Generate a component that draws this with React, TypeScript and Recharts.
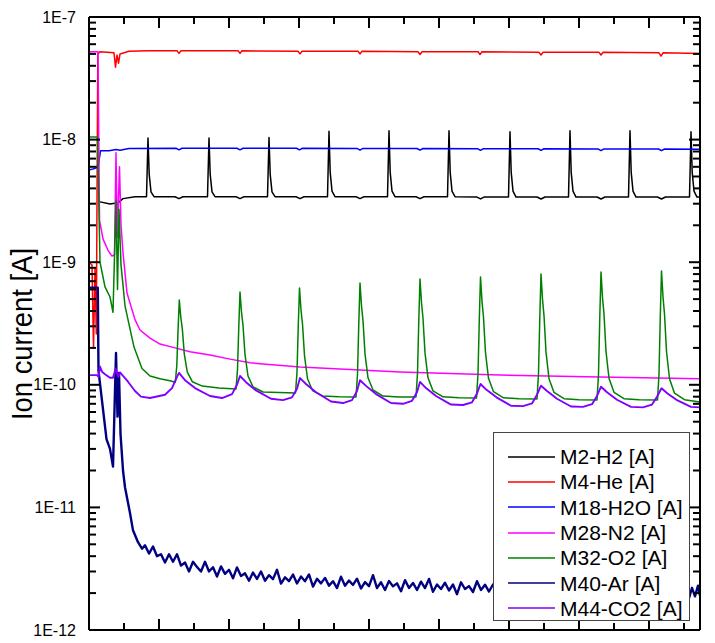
import React from 'react';
import { LineChart, Line, XAxis, YAxis, Legend } from 'recharts';

// x = scan time (arbitrary units), y = ion current [A]
const X_TICKS = [35, 70, 105, 140, 175, 210, 245, 280, 315, 350, 385, 420, 455, 490, 525, 560, 595];
const X_MAJOR = [70, 140, 210, 280, 350, 420, 490, 560];
const Y_TICKS = [
  1e-12, 2e-12, 3e-12, 4e-12, 5e-12, 6e-12, 7e-12, 8e-12, 9e-12,
  1e-11, 2e-11, 3e-11, 4e-11, 5e-11, 6e-11, 7e-11, 8e-11, 9e-11,
  1e-10, 2e-10, 3e-10, 4e-10, 5e-10, 6e-10, 7e-10, 8e-10, 9e-10,
  1e-9, 2e-9, 3e-9, 4e-9, 5e-9, 6e-9, 7e-9, 8e-9, 9e-9,
  1e-8, 2e-8, 3e-8, 4e-8, 5e-8, 6e-8, 7e-8, 8e-8, 9e-8,
  1e-7,
];
const Y_LABELS = ['1E-12', '1E-11', '1E-10', '1E-9', '1E-8', '1E-7'];
const Y_MAJOR = [1e-12, 1e-11, 1e-10, 1e-9, 1e-8, 1e-7];

const H2: [number, number][] = [
  [10, 3.12e-9], [21, 2.98e-9], [29, 3.05e-9], [34, 3.3e-9], [46, 3.42e-9],
  [57.5, 3.42e-9], [59, 1.03e-8], [60.2, 5.2e-9], [62, 3.75e-9], [65, 3.42e-9],
  [86, 3.42e-9], [90, 3.3e-9], [94, 3.42e-9],
  [118.5, 3.42e-9], [120, 1.03e-8], [121.2, 5.2e-9], [123, 3.75e-9], [126, 3.42e-9],
  [147, 3.42e-9], [151, 3.3e-9], [155, 3.42e-9],
  [178.5, 3.42e-9], [180, 1.04e-8], [181.2, 5.2e-9], [183, 3.75e-9], [186, 3.42e-9],
  [207, 3.42e-9], [211, 3.3e-9], [215, 3.42e-9],
  [238.5, 3.42e-9], [240, 1.17e-8], [241.2, 5.4e-9], [243, 3.8e-9], [246, 3.42e-9],
  [267, 3.42e-9], [271, 3.3e-9], [275, 3.42e-9],
  [298.5, 3.42e-9], [300, 1.18e-8], [301.2, 5.4e-9], [303, 3.8e-9], [306, 3.42e-9],
  [327, 3.42e-9], [331, 3.3e-9], [335, 3.42e-9],
  [358.5, 3.42e-9], [360, 1.18e-8], [361.2, 5.4e-9], [363, 3.8e-9], [366, 3.42e-9],
  [388, 3.4e-9], [391.5, 3.28e-9], [395, 3.4e-9],
  [419.5, 3.4e-9], [421, 1.16e-8], [422.2, 5.4e-9], [424, 3.8e-9], [427, 3.4e-9],
  [448, 3.4e-9], [452, 3.28e-9], [456, 3.4e-9],
  [479.5, 3.4e-9], [481, 1.18e-8], [482.2, 5.4e-9], [484, 3.8e-9], [487, 3.4e-9],
  [508, 3.4e-9], [512, 3.28e-9], [516, 3.4e-9],
  [539.5, 3.4e-9], [541, 1.18e-8], [542.2, 5.4e-9], [544, 3.8e-9], [547, 3.4e-9],
  [568.5, 3.4e-9], [572.5, 3.28e-9], [576.5, 3.4e-9],
  [600.5, 3.4e-9], [602, 1.16e-8], [603.2, 5.4e-9], [605, 3.8e-9], [608, 3.4e-9], [611, 3.4e-9],
];

const HE: [number, number][] = [
  [0, 1.0e-9], [3, 9.5e-10], [4.5, 2.0e-10], [6, 9.0e-10], [7.3, 2.6e-10], [8.8, 5.0e-8],
  [11, 5.2e-8], [25, 5.1e-8], [26.5, 3.9e-8], [28, 4.9e-8], [29.5, 4.2e-8], [31, 5.0e-8],
  [40, 5.25e-8], [60, 5.3e-8], [88, 5.3e-8], [90, 5.05e-8], [92, 5.3e-8],
  [149, 5.3e-8], [151, 5.05e-8], [153, 5.3e-8], [209, 5.25e-8], [211, 5.0e-8], [213, 5.25e-8],
  [269, 5.25e-8], [271, 5.0e-8], [273, 5.25e-8], [329, 5.2e-8], [331, 4.95e-8], [333, 5.2e-8],
  [389, 5.2e-8], [391, 4.95e-8], [393, 5.2e-8], [450, 5.15e-8], [452, 4.9e-8], [454, 5.15e-8],
  [510, 5.15e-8], [512, 4.9e-8], [514, 5.15e-8], [570, 5.1e-8], [572, 4.8e-8], [574, 5.1e-8],
  [611, 5.05e-8],
];

const H2O: [number, number][] = [
  [0, 5.65e-9], [7, 5.85e-9], [9.5, 6.3e-9], [11.5, 8.1e-9], [20, 8.1e-9], [27, 8.3e-9],
  [31, 8.2e-9], [40, 8.45e-9], [87, 8.5e-9], [90, 8.25e-9], [93, 8.5e-9],
  [148, 8.5e-9], [151, 8.25e-9], [154, 8.5e-9], [207.5, 8.5e-9], [210.5, 8.25e-9], [213.5, 8.5e-9],
  [268, 8.48e-9], [271, 8.22e-9], [274, 8.48e-9], [328, 8.46e-9], [331, 8.2e-9], [334, 8.46e-9],
  [388.5, 8.44e-9], [391.5, 8.18e-9], [394.5, 8.44e-9], [449, 8.42e-9], [452, 8.16e-9], [455, 8.42e-9],
  [509, 8.4e-9], [512, 8.14e-9], [515, 8.4e-9], [569.5, 8.38e-9], [572.5, 8.12e-9], [575.5, 8.38e-9],
  [611, 8.35e-9],
];

const N2: [number, number][] = [
  [0, 5.2e-8], [9, 5.2e-8], [10.5, 2.2e-9], [14, 1.55e-9], [19, 1.25e-9], [23, 1.12e-9],
  [25.5, 1.15e-9], [27, 7.8e-9], [28.3, 1.6e-9], [30.5, 6.0e-9], [32, 2.0e-9], [34, 1.2e-9],
  [38, 5.6e-10], [41, 4.65e-10], [46, 3.4e-10], [51, 2.8e-10], [61, 2.4e-10], [71, 2.15e-10],
  [86, 2.0e-10], [101, 1.86e-10], [121, 1.75e-10], [141, 1.62e-10], [161, 1.51e-10],
  [211, 1.4e-10], [311, 1.27e-10], [411, 1.2e-10], [511, 1.16e-10], [611, 1.12e-10],
];

const O2: [number, number][] = [
  [0, 1.05e-8], [8.5, 1.05e-8], [11, 1.0e-9], [16, 6.3e-10], [21, 5.2e-10], [24, 3.9e-10],
  [27, 3.2e-9], [28.5, 6.0e-10], [30, 2.7e-9], [32, 9.5e-10], [34, 6.5e-10], [36, 4.4e-10],
  [39, 3.4e-10], [45, 2.03e-10], [53, 1.36e-10], [61, 1.18e-10], [71, 1.12e-10], [81, 1.08e-10],
  [86.3, 1.05e-10], [87.8, 1.43e-10], [89.1, 2.87e-10], [90.3, 4.91e-10], [91.8, 3.55e-10], [93.3, 2.87e-10],
  [95.3, 1.78e-10], [98.3, 1.27e-10], [103.3, 1.06e-10], [113.3, 9.76e-11], [130, 9.4e-11],
  [147, 9.24e-11], [148.5, 1.33e-10], [149.8, 3.02e-10], [151, 5.71e-10], [152.5, 3.91e-10], [154, 3.06e-10],
  [156, 1.76e-10], [159, 1.18e-10], [164, 9.61e-11], [174, 8.73e-11], [190, 8.65e-11],
  [206.5, 8.57e-11], [208, 1.27e-10], [209.3, 3.09e-10], [210.5, 6.16e-10], [212, 4.09e-10], [213.5, 3.13e-10],
  [215.5, 1.73e-10], [218.5, 1.12e-10], [223.5, 8.99e-11], [233.5, 8.12e-11], [250, 8.0e-11],
  [267, 7.95e-11], [268.5, 1.22e-10], [269.8, 3.19e-10], [271, 6.77e-10], [272.5, 4.41e-10], [274, 3.34e-10],
  [276, 1.79e-10], [279, 1.14e-10], [284, 9.07e-11], [294, 8.1e-11], [310, 7.95e-11],
  [327, 7.95e-11], [328.5, 1.24e-10], [329.8, 3.36e-10], [331, 7.29e-10], [332.5, 4.67e-10], [334, 3.49e-10],
  [336, 1.82e-10], [339, 1.14e-10], [344, 8.92e-11], [354, 7.98e-11], [370, 7.85e-11],
  [387.5, 7.8e-11], [389, 1.23e-10], [390.3, 3.42e-10], [391.5, 7.57e-10], [393, 4.79e-10], [394.5, 3.55e-10],
  [396.5, 1.83e-10], [399.5, 1.13e-10], [404.5, 8.78e-11], [414.5, 7.83e-11], [430, 7.7e-11],
  [448, 7.66e-11], [449.5, 1.23e-10], [450.8, 3.52e-10], [452, 8.01e-10], [453.5, 4.99e-10], [455, 3.67e-10],
  [457, 1.85e-10], [460, 1.12e-10], [465, 8.67e-11], [475, 7.7e-11], [490, 7.55e-11],
  [508, 7.52e-11], [509.5, 1.22e-10], [510.8, 3.58e-10], [512, 8.32e-10], [513.5, 5.14e-10], [515, 3.77e-10],
  [517, 1.87e-10], [520, 1.13e-10], [525, 8.69e-11], [535, 7.7e-11], [550, 7.55e-11],
  [568.5, 7.52e-11], [570, 1.22e-10], [571.3, 3.63e-10], [572.5, 8.47e-10], [574, 5.2e-10], [575.5, 3.79e-10],
  [577.5, 1.87e-10], [580.5, 1.12e-10], [585.5, 8.54e-11], [595.5, 7.56e-11], [611, 7.25e-11],
];

const AR: [number, number][] = [
  [0, 6.2e-10], [8.8, 6.2e-10], [9.5, 1.3e-10], [17.5, 3.6e-11], [21, 3.0e-11], [24, 2.15e-11],
  [27, 1.82e-10], [28.5, 5.5e-11], [30, 1.25e-10], [31.5, 4.0e-11], [34, 2.0e-11], [36, 1.46e-11],
  [41, 9.0e-12], [44, 6.5e-12], [49, 5.2e-12], [53, 4.6e-12],
  [56, 4.9e-12], [60, 4.2e-12], [64, 4.8e-12], [68, 4.0e-12], [72, 4.15e-12], [76, 3.55e-12],
  [80, 4.15e-12], [84, 3.6e-12], [88, 4.15e-12], [92, 3.35e-12], [96, 3.55e-12], [100, 3.0e-12],
  [104, 3.6e-12], [108, 3.27e-12], [112, 3.0e-12], [116, 3.6e-12], [120, 3.0e-12], [124, 3.25e-12],
  [128, 2.73e-12], [132, 3.3e-12], [136, 2.87e-12], [140, 3.1e-12], [144, 2.64e-12], [148, 3.24e-12],
  [152, 2.76e-12], [156, 2.9e-12], [160, 2.52e-12], [164, 2.94e-12], [168, 2.61e-12], [172, 3.0e-12],
  [176, 2.52e-12], [180, 2.8e-12], [184, 2.6e-12], [188, 3.1e-12], [192, 2.39e-12], [196, 2.69e-12],
  [200, 2.5e-12], [204, 2.83e-12], [208, 2.4e-12], [212, 2.73e-12], [216, 2.5e-12], [220, 2.84e-12],
  [224, 2.26e-12], [228, 2.62e-12], [232, 2.4e-12], [236, 2.66e-12], [240, 2.3e-12], [244, 2.5e-12],
  [248, 2.2e-12], [252, 2.72e-12], [256, 2.3e-12], [260, 2.53e-12], [264, 2.33e-12], [268, 2.62e-12],
  [272, 2.18e-12], [276, 2.46e-12], [280, 2.28e-12], [284, 2.8e-12], [288, 2.2e-12], [292, 2.45e-12],
  [296, 2.12e-12], [300, 2.51e-12], [304, 2.27e-12], [308, 2.4e-12], [312, 2.07e-12], [316, 2.55e-12],
  [320, 2.2e-12], [324, 2.42e-12], [328, 2.12e-12], [332, 2.48e-12], [336, 2.2e-12], [340, 2.61e-12],
  [344, 2.05e-12], [348, 2.35e-12], [352, 2.16e-12], [356, 2.43e-12], [360, 2.1e-12], [364, 2.35e-12],
  [368, 1.96e-12], [372, 2.45e-12], [376, 2.16e-12], [380, 2.28e-12], [384, 2.04e-12], [388, 2.5e-12],
  [392, 2.12e-12], [396, 2.34e-12], [400, 2.06e-12], [404, 2.35e-12], [408, 2.15e-12],
  [430, 2.2e-12], [460, 2.16e-12], [490, 2.13e-12], [520, 2.1e-12], [550, 2.06e-12], [580, 2.03e-12],
  [597, 2.12e-12], [600, 1.82e-12], [603, 2.21e-12], [606, 1.88e-12], [609, 2.3e-12], [611, 1.9e-12],
];

const CO2: [number, number][] = [
  [0, 1.2e-10], [8, 1.2e-10], [9.5, 1.16e-10], [11, 1.41e-10], [13, 1.28e-10], [16, 1.22e-10],
  [21, 1.14e-10], [24, 1.14e-10], [26.7, 1.36e-10], [29.3, 1.16e-10], [31, 1.26e-10], [39, 1.06e-10],
  [46, 8.9e-11], [52, 8.0e-11], [61, 7.8e-11], [76, 8.3e-11], [83, 9.4e-11], [88, 1.16e-10],
  [90, 1.25e-10], [96, 1.09e-10], [106, 9.4e-11], [121, 8.1e-11], [133, 7.8e-11], [143, 8.4e-11], [148, 1.0e-10],
  [151, 1.18e-10], [157, 1.05e-10], [167, 9.0e-11], [182, 7.7e-11], [194, 7.5e-11], [203, 7.9e-11], [208, 9.3e-11],
  [211, 1.135e-10], [217, 1.015e-10], [227, 8.7e-11], [242, 7.3e-11], [254, 7.1e-11], [263, 7.5e-11], [268, 8.9e-11],
  [271, 1.09e-10], [277, 9.8e-11], [287, 8.4e-11], [302, 7.1e-11], [314, 7.0e-11], [323, 7.4e-11], [328, 8.7e-11],
  [331, 1.055e-10], [337, 9.4e-11], [347, 8.1e-11], [362, 6.9e-11], [374, 6.84e-11], [383, 7.2e-11], [388, 8.5e-11],
  [391.5, 1.015e-10], [397.5, 9.1e-11], [407.5, 7.9e-11], [422, 6.75e-11], [434, 6.7e-11], [443, 7.05e-11], [448, 8.3e-11],
  [452, 9.83e-11], [458, 8.9e-11], [468, 7.7e-11], [482, 6.65e-11], [494, 6.6e-11], [503, 6.95e-11], [508, 8.1e-11],
  [512, 9.65e-11], [518, 8.7e-11], [528, 7.55e-11], [542, 6.6e-11], [554, 6.55e-11], [563, 6.9e-11], [568, 8.0e-11],
  [572.5, 9.37e-11], [578.5, 8.5e-11], [588.5, 7.45e-11], [602, 6.6e-11], [611, 6.55e-11],
];

const SERIES = [
  { name: 'M2-H2 [A]', color: '#000000', pts: H2 },
  { name: 'M4-He [A]', color: '#FF0000', pts: HE },
  { name: 'M18-H2O [A]', color: '#0000FF', pts: H2O },
  { name: 'M28-N2 [A]', color: '#FF00FF', pts: N2 },
  { name: 'M32-O2 [A]', color: '#008000', pts: O2 },
  { name: 'M40-Ar [A]', color: '#000080', pts: AR },
  { name: 'M44-CO2 [A]', color: '#8000FF', pts: CO2 },
];

const FONT = '"Liberation Sans", Arial, Helvetica, sans-serif';

const majorIndex = (v: number) => Y_MAJOR.findIndex((m) => Math.abs(m - v) / m < 1e-6);

const LeftTick = (props: any) => {
  const { x, y, payload } = props;
  const idx = majorIndex(payload.value);
  const major = idx >= 0;
  return (
    <g>
      <line x1={x} y1={y} x2={x + (major ? 11 : 7)} y2={y} stroke="#000" strokeWidth={2} />
      {major && (
        <text x={x - 13} y={y} textAnchor="end" dominantBaseline="central" fontFamily={FONT} fontSize={16} fill="#000">
          {Y_LABELS[idx]}
        </text>
      )}
    </g>
  );
};

const RightTick = (props: any) => {
  const { x, y, payload } = props;
  const major = majorIndex(payload.value) >= 0;
  return <line x1={x} y1={y} x2={x - (major ? 11 : 7)} y2={y} stroke="#000" strokeWidth={2} />;
};

const BottomTick = (props: any) => {
  const { x, y, payload } = props;
  const major = X_MAJOR.includes(payload.value);
  return <line x1={x} y1={y} x2={x} y2={y - (major ? 11 : 7)} stroke="#000" strokeWidth={2} />;
};

const TopTick = (props: any) => {
  const { x, y, payload } = props;
  const major = X_MAJOR.includes(payload.value);
  return <line x1={x} y1={y} x2={x} y2={y + (major ? 11 : 7)} stroke="#000" strokeWidth={2} />;
};

const YLabel = () => (
  <text
    x={32}
    y={334}
    transform="rotate(-90, 32, 334)"
    textAnchor="middle"
    fontFamily={FONT}
    fontSize={29}
    textLength={172}
    lengthAdjust="spacingAndGlyphs"
    fill="#000"
  >
    Ion current [A]
  </text>
);

const renderLegend = () => (
  <div
    style={{
      boxSizing: 'border-box',
      width: 197,
      height: 189,
      border: '1px solid #444',
      background: '#fff',
      paddingTop: 11,
    }}
  >
    {SERIES.map((s) => (
      <div key={s.name} style={{ display: 'flex', alignItems: 'center', height: 25.3 }}>
        <svg width={47} height={4} style={{ marginLeft: 14, marginRight: 5, display: 'block' }}>
          <line x1={0} y1={2} x2={47} y2={2} stroke={s.color} strokeWidth={1.5} />
        </svg>
        <span style={{ fontFamily: FONT, fontSize: 21, color: '#000', lineHeight: '25px', whiteSpace: 'nowrap' }}>
          {s.name}
        </span>
      </div>
    ))}
  </div>
);

export default function App() {
  return (
    <div style={{ position: 'fixed', left: 0, top: 0, width: 715, height: 643, background: '#fff' }}>
      <LineChart width={715} height={643} margin={{ top: 0, right: 0, bottom: 0, left: 0 }}>
        <XAxis
          xAxisId={0}
          type="number"
          dataKey="x"
          domain={[0, 611]}
          allowDataOverflow
          ticks={X_TICKS}
          interval={0}
          height={13}
          tickLine={false}
          tickSize={0}
          tickMargin={0}
          tick={<BottomTick />}
          axisLine={{ stroke: '#000', strokeWidth: 2 }}
        />
        <XAxis
          xAxisId="top"
          orientation="top"
          type="number"
          dataKey="x"
          domain={[0, 611]}
          allowDataOverflow
          ticks={X_TICKS}
          interval={0}
          height={17}
          tickLine={false}
          tickSize={0}
          tickMargin={0}
          tick={<TopTick />}
          axisLine={{ stroke: '#000', strokeWidth: 2 }}
        />
        <YAxis
          yAxisId={0}
          scale="log"
          type="number"
          domain={[1e-12, 1e-7]}
          allowDataOverflow
          ticks={Y_TICKS}
          interval={0}
          width={89}
          tickLine={false}
          tickSize={0}
          tickMargin={0}
          tick={<LeftTick />}
          axisLine={{ stroke: '#000', strokeWidth: 2 }}
          label={YLabel}
        />
        <YAxis
          yAxisId="right"
          orientation="right"
          scale="log"
          type="number"
          domain={[1e-12, 1e-7]}
          allowDataOverflow
          ticks={Y_TICKS}
          interval={0}
          width={15}
          tickLine={false}
          tickSize={0}
          tickMargin={0}
          tick={<RightTick />}
          axisLine={{ stroke: '#000', strokeWidth: 2 }}
        />
        {SERIES.map((s, i) => (
          <Line
            key={s.name}
            xAxisId={i === 2 ? 'top' : 0}
            yAxisId={i === 2 ? 'right' : 0}
            data={s.pts.map(([x, v]) => ({ x, v }))}
            dataKey="v"
            name={s.name}
            type="linear"
            stroke={s.color}
            strokeWidth={s.name === 'M40-Ar [A]' ? 2.4 : s.name === 'M44-CO2 [A]' ? 1.9 : 1.5}
            strokeLinejoin="round"
            dot={false}
            activeDot={false}
            isAnimationActive={false}
          />
        ))}
        <Legend
          layout="vertical"
          align="center"
          verticalAlign="middle"
          content={renderLegend}
          wrapperStyle={{ left: 493, top: 432, width: 197, height: 189 }}
        />
      </LineChart>
    </div>
  );
}
